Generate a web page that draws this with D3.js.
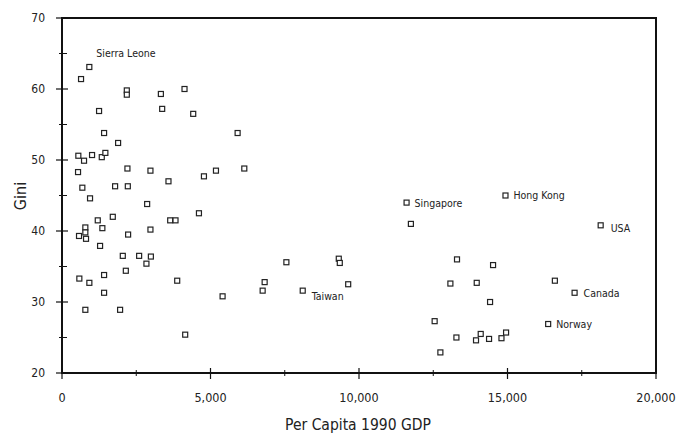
<!DOCTYPE html>
<html>
<head>
<meta charset="utf-8">
<script src="https://cdn.jsdelivr.net/npm/d3@7"></script>
<style>
  html, body { margin: 0; padding: 0; background: #fff; }
  svg { display: block; }
  text { font-family: "DejaVu Sans Condensed", "Liberation Sans Narrow", sans-serif; font-stretch: condensed; fill: #222; }
</style>
</head>
<body>
<svg id="chart" width="677" height="433"></svg>
<script>
// ---- Data ----
const gdp = [920, 641, 2182, 2182, 3329, 4125, 3373, 4418, 1248, 1417,
             1889, 550, 742, 1012, 1339, 1460, 540, 2203, 2978, 3585,
             4779, 5184, 685, 1788, 2216, 944, 2867, 1204, 1710, 3643,
             3822, 4611, 786, 1359, 573, 786, 809, 2226, 2978, 1282,
             2047, 2597, 2992, 2843, 2149, 584, 921, 1417, 3879, 1417,
             5407, 786, 1956, 4148, 5913, 6138, 11602, 11747, 7555, 9319,
             9353, 6823, 6756, 8105, 9636, 14932, 18137, 13300, 14514, 13077,
             13964, 16595, 17259, 14413, 12547, 16369, 13280, 14098, 13940, 14379,
             14797, 14952, 12740];
const gini = [63.1, 61.4, 59.8, 59.2, 59.3, 60.0, 57.2, 56.5, 56.9, 53.8,
              52.4, 50.6, 49.9, 50.7, 50.4, 51.0, 48.3, 48.8, 48.5, 47.0,
              47.7, 48.5, 46.1, 46.3, 46.3, 44.6, 43.8, 41.5, 42.0, 41.5,
              41.5, 42.5, 40.5, 40.4, 39.3, 39.8, 38.9, 39.5, 40.2, 37.9,
              36.5, 36.5, 36.4, 35.4, 34.4, 33.3, 32.7, 33.8, 33.0, 31.3,
              30.8, 28.9, 28.9, 25.4, 53.8, 48.8, 44.0, 41.0, 35.6, 36.1,
              35.5, 32.8, 31.6, 31.6, 32.5, 45.0, 40.8, 36.0, 35.2, 32.6,
              32.7, 33.0, 31.3, 30.0, 27.3, 26.9, 25.0, 25.5, 24.6, 24.8,
              24.9, 25.7, 22.9];
const labelNames = ["Sierra Leone", "Singapore", "Hong Kong", "USA", "Canada", "Norway", "Taiwan"];
const labelIndex = [0, 56, 65, 66, 72, 75, 63];
const xTickValues = [0, 5000, 10000, 15000, 20000];
const xMinorValues = [2500, 7500, 12500, 17500];
const yTickValues = [20, 30, 40, 50, 60, 70];
const yMinorValues = [25, 35, 45, 55, 65];
const xTitle = "Per Capita 1990 GDP";
const yTitle = "Gini";

// ---- Layout / style ----
const labelOffsets = {
  "Sierra Leone": [7, -14], "Singapore": [8, 1], "Hong Kong": [8, 0],
  "USA": [10, 3], "Canada": [9, 1], "Norway": [8, 0], "Taiwan": [9, 6]
};

const svg = d3.select("#chart");
const x = d3.scaleLinear().domain([0, 20000]).range([62, 656]);
const y = d3.scaleLinear().domain([20, 70]).range([373, 18]);
const fmt = d3.format(",");

// frame
svg.append("rect")
  .attr("x", x(0)).attr("y", y(70))
  .attr("width", x(20000) - x(0)).attr("height", y(20) - y(70))
  .attr("fill", "none").attr("stroke", "#111").attr("stroke-width", 2);

// y ticks
svg.selectAll(".ymaj").data(yTickValues).enter().append("line")
  .attr("x1", x(0) - 6).attr("x2", x(0) + 6)
  .attr("y1", d => y(d)).attr("y2", d => y(d))
  .attr("stroke", "#111").attr("stroke-width", 1.2);
svg.selectAll(".ymin").data(yMinorValues).enter().append("line")
  .attr("x1", x(0) - 3).attr("x2", x(0) + 5)
  .attr("y1", d => y(d)).attr("y2", d => y(d))
  .attr("stroke", "#111").attr("stroke-width", 1);
svg.selectAll(".ylab").data(yTickValues).enter().append("text")
  .attr("x", x(0) - 17).attr("y", d => y(d))
  .attr("dy", "0.35em").attr("text-anchor", "end")
  .attr("font-size", 12).attr("fill", "#444")
  .text(d => d);

// x ticks
svg.selectAll(".xmaj").data(xTickValues).enter().append("line")
  .attr("x1", d => x(d)).attr("x2", d => x(d))
  .attr("y1", y(20) - 5).attr("y2", y(20) + 6)
  .attr("stroke", "#111").attr("stroke-width", 1.2);
svg.selectAll(".xmin").data(xMinorValues).enter().append("line")
  .attr("x1", d => x(d)).attr("x2", d => x(d))
  .attr("y1", y(20) - 3).attr("y2", y(20) + 3)
  .attr("stroke", "#111").attr("stroke-width", 1);
svg.selectAll(".xlab").data(xTickValues).enter().append("text")
  .attr("x", d => x(d)).attr("y", 402)
  .attr("text-anchor", "middle")
  .attr("font-size", 12.5).attr("fill", "#333")
  .text(d => fmt(d));

// titles
svg.append("text").attr("x", 358).attr("y", 430)
  .attr("text-anchor", "middle").attr("font-size", 15.5)
  .text(xTitle);
svg.append("text")
  .attr("transform", `translate(26,196) rotate(-90)`)
  .attr("text-anchor", "middle").attr("font-size", 16)
  .text(yTitle);

// points
const pts = gdp.map((g, i) => ({ g, v: gini[i] }));
svg.selectAll(".pt").data(pts).enter().append("rect")
  .attr("x", d => x(d.g) - 2.5).attr("y", d => y(d.v) - 2.5)
  .attr("width", 5).attr("height", 5)
  .attr("fill", "#fff").attr("stroke", "#222").attr("stroke-width", 1.2);

// labels
labelNames.forEach((name, k) => {
  const i = labelIndex[k];
  const off = labelOffsets[name];
  svg.append("text")
    .attr("x", x(gdp[i]) + off[0]).attr("y", y(gini[i]) + off[1])
    .attr("dy", "0.35em").attr("font-size", 10.5)
    .text(name);
});
</script>
</body>
</html>
